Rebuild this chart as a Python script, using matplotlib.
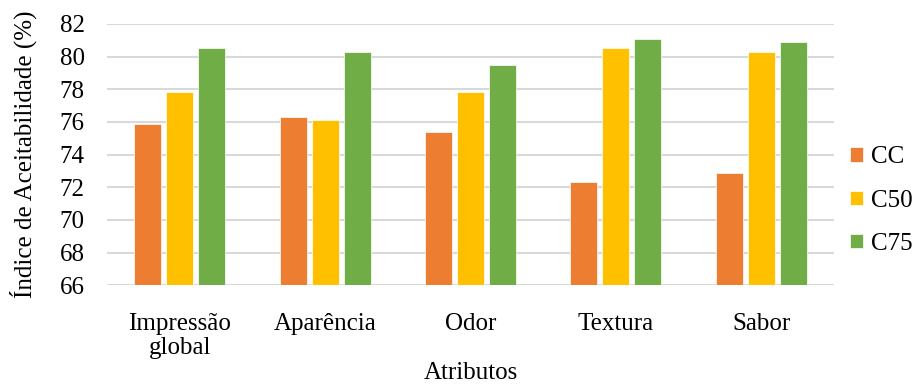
import matplotlib.pyplot as plt
import numpy as np

# Sensory acceptability index per attribute and formulation
atributos = ['Impressão\nglobal', 'Aparência', 'Odor', 'Textura', 'Sabor']
cc = [75.9, 76.3, 75.4, 72.3, 72.9]
c50 = [77.8, 76.1, 77.8, 80.5, 80.3]
c75 = [80.5, 80.3, 79.5, 81.1, 80.9]

series = [('CC', cc, '#ED7D31'), ('C50', c50, '#FFC000'), ('C75', c75, '#70AD47')]

plt.rcParams['font.family'] = ['Liberation Serif', 'DejaVu Serif']
plt.rcParams['font.size'] = 18

fig = plt.figure(figsize=(9.14, 3.85), dpi=100)
ax = fig.add_axes([0.117, 0.259, 0.7955, 0.679])

x = np.arange(len(atributos))
width = 0.186
step = 0.22
for i, (name, vals, color) in enumerate(series):
    ax.bar(x + (i - 1) * step, np.array(vals) - 66, width, bottom=66,
           color=color, edgecolor='white', linewidth=0.5, label=name, zorder=3)

ax.set_xlim(-0.5, len(atributos) - 0.5)
ax.set_ylim(66, 82)
ax.set_yticks(range(66, 83, 2))
ax.set_xticks(x)
ax.set_xticklabels(atributos, linespacing=1.1)
ax.grid(axis='y', color='#d9d9d9', linewidth=1.5, zorder=0)
for s in ['top', 'right', 'left', 'bottom']:
    ax.spines[s].set_visible(False)
ax.tick_params(axis='both', length=0)
ax.tick_params(axis='y', pad=16)
ax.tick_params(axis='x', pad=20)

ax.set_ylabel('Índice de Aceitabilidade (%)', labelpad=16)
ax.set_xlabel('Atributos', labelpad=2)

fig.legend(loc='center left', bbox_to_anchor=(0.93, 0.479), frameon=False,
           handlelength=0.5, handleheight=0.5, handletextpad=0.32,
           labelspacing=0.85, borderaxespad=0, borderpad=0)

fig.savefig('out.png', dpi=100)
